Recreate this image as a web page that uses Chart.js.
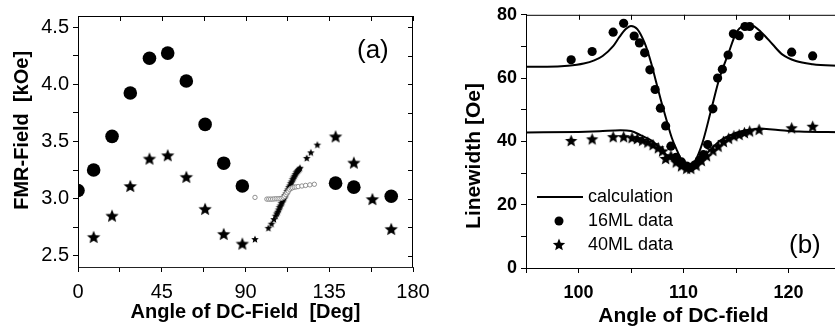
<!DOCTYPE html>
<html>
<head>
<meta charset="utf-8">
<script src="https://cdn.jsdelivr.net/npm/chart.js@4"></script>
<style>
  html, body { margin: 0; padding: 0; background: #fff; overflow: hidden; width: 835px; height: 333px; }
  #wrapA { position: absolute; left: 0; top: 0; width: 440px; height: 333px; }
  #wrapB { position: absolute; left: 420px; top: 0; width: 430px; height: 333px; }
</style>
</head>
<body>
<div id="wrapA"><canvas id="chartA"></canvas></div>
<div id="wrapB"><canvas id="chartB"></canvas></div>
<script>
// ---- panel (a): FMR field vs angle ----
var angBigDots = [0, 8.4, 18.3, 28.1, 38.4, 48.2, 58.2, 68.3, 78.3, 88.3, 138.4, 148.2, 168.3];
var fieldBigDots = [3.07, 3.25, 3.545, 3.925, 4.23, 4.275, 4.03, 3.65, 3.31, 3.11, 3.135, 3.10, 3.02];

var angBigStars = [8.4, 18.3, 28.1, 38.4, 48.2, 58.2, 68.3, 78.3, 88.3, 138.4, 148.2, 158.2, 168.3];
var fieldBigStars = [2.664, 2.85, 3.11, 3.35, 3.38, 3.19, 2.91, 2.69, 2.605, 3.545, 3.315, 2.996, 2.734];

var angSmallStars = [95.1, 102.3, 104.0, 105.3, 106.2, 106.8, 107.3, 107.8, 108.3, 108.8, 109.3, 109.8,
  110.3, 110.8, 111.3, 111.8, 112.3, 112.8, 113.3, 113.8, 114.3, 114.8, 115.3, 115.8, 116.3, 116.8,
  117.3, 117.8, 118.3, 118.8, 119.3, 122.9, 125.1, 128.6];
var fieldSmallStars = [2.645, 2.743, 2.78, 2.82, 2.85, 2.87, 2.885, 2.905, 2.925, 2.94, 2.96, 2.975,
  2.995, 3.01, 3.03, 3.045, 3.065, 3.08, 3.10, 3.115, 3.135, 3.15, 3.17, 3.185, 3.20, 3.215,
  3.23, 3.24, 3.25, 3.26, 3.27, 3.356, 3.405, 3.473];

var angSmallRings = [95.1, 101.5, 102.5, 103.5, 104.5, 105.5, 106.5, 107.5, 108.5, 109.5, 110.3, 111.0,
  111.7, 112.3, 113.0, 113.7, 114.5, 115.3, 116.2, 117.2, 118.3, 120.3, 122.3, 124.6, 127.0];
var fieldSmallRings = [3.01, 2.995, 2.995, 2.995, 2.995, 2.997, 2.998, 2.998, 3.0, 3.003, 3.01, 3.02,
  3.035, 3.05, 3.065, 3.08, 3.09, 3.095, 3.10, 3.102, 3.105, 3.11, 3.115, 3.12, 3.125];

// ---- panel (b): linewidth vs angle ----
var ang16 = [99.3, 101.3, 103.3, 104.3, 105.3, 105.8, 106.3, 106.8, 107.3, 107.8, 108.3, 108.8, 109.3,
  109.8, 110.3, 110.7, 111.1, 111.5, 111.9, 112.3, 112.8, 113.25, 113.7, 114.25, 114.75, 115.3, 115.85,
  116.3, 117.2, 120.3, 122.3];
var lw16 = [65.8, 68.4, 74.5, 77.3, 73.3, 71.1, 68.0, 62.6, 56.4, 50.5, 44.9, 38.5, 35.0,
  33.5, 32.2, 31.8, 32.6, 34.0, 35.8, 39.0, 50.3, 60.0, 62.8, 67.3, 74.0, 73.4, 76.3,
  76.3, 73.2, 68.2, 67.0];

var ang40 = [99.3, 101.3, 103.3, 104.3, 105.1, 105.6, 106.1, 106.6, 107.1, 107.6, 108.0, 108.3, 108.8,
  109.3, 109.8, 110.3, 110.7, 111.2, 111.7, 112.2, 112.8, 113.3, 113.8, 114.3, 114.8, 115.3, 115.8,
  116.3, 117.2, 120.3, 122.3];
var lw40 = [40.3, 40.8, 41.5, 41.5, 41.2, 40.9, 40.4, 39.8, 39.0, 38.0, 37.0, 34.6, 35.5,
  33.5, 32.3, 31.5, 31.5, 32.5, 34.0, 35.5, 37.2, 38.5, 40.0, 41.0, 41.8, 42.2, 42.8,
  43.3, 43.8, 44.3, 44.8];

var angCalc16 = [95, 97, 99, 100.5, 101.5, 102.3, 103.3, 103.9, 104.5, 105.0, 105.6, 106.3, 106.9, 107.4,
  107.9, 108.4, 108.9, 109.4, 109.9, 110.5, 111.1, 111.8, 112.6, 113.4, 114.3, 115.0, 115.7, 116.4,
  117.5, 118.5, 119.4, 120.7, 122.3, 125];
var calc16 = [63.6, 63.6, 63.9, 64.6, 65.6, 67.0, 70.1, 73.0, 75.5, 76.5, 75.5, 71.1, 65.0, 58.7,
  52.4, 46.5, 41.0, 37.0, 33.5, 31.1, 33.7, 39.5, 49.5, 59.7, 68.0, 74.2, 76.5, 76.8,
  74.2, 70.6, 67.5, 65.4, 64.4, 63.8];

var angCalc40 = [95, 100, 102, 104, 105, 106, 107, 108, 109, 110, 110.5, 111, 111.5, 112.5, 113.5,
  114.5, 115.5, 116.5, 117.5, 119, 121, 125];
var calc40 = [42.8, 43.0, 43.2, 43.5, 43.3, 41.8, 40.2, 37.0, 33.8, 31.6, 31.3, 31.8, 33.5, 37.2, 40.3,
  42.0, 43.2, 43.8, 44.0, 43.6, 43.1, 42.9];

var legendNames = ["calculation", "16ML data", "40ML data"];

function pts(xs, ys) {
  return xs.map(function(x, i) { return { x: x, y: ys[i] }; });
}

function starPath(ctx, cx, cy, r) {
  var inner = r * 0.45;
  ctx.beginPath();
  for (var i = 0; i < 10; i++) {
    var rr = i % 2 === 0 ? r : inner;
    var a = -Math.PI / 2 + i * Math.PI / 5;
    var px = cx + rr * Math.cos(a), py = cy + rr * Math.sin(a);
    if (i === 0) ctx.moveTo(px, py); else ctx.lineTo(px, py);
  }
  ctx.closePath();
}

function starImage(r) {
  var c = document.createElement("canvas");
  var s = Math.ceil(r * 2 + 2);
  c.width = s; c.height = s;
  var ctx = c.getContext("2d");
  ctx.fillStyle = "#000";
  starPath(ctx, s / 2, s / 2 + r * 0.1, r);
  ctx.fill();
  return c;
}

Chart.defaults.color = "#000";
Chart.defaults.font.family = "'Liberation Sans', Arial, sans-serif";
Chart.defaults.animation = false;

// box frame with inward ticks on top and right
var framePlugin = {
  id: "frame",
  afterDraw: function(chart) {
    var ctx = chart.ctx, a = chart.chartArea;
    var sx = chart.scales.x, sy = chart.scales.y;
    ctx.save();
    ctx.strokeStyle = "#000";
    ctx.lineWidth = 1;
    ctx.beginPath();
    ctx.moveTo(a.left, a.top + 0.5); ctx.lineTo(a.right, a.top + 0.5);
    ctx.moveTo(a.right - 0.5, a.top); ctx.lineTo(a.right - 0.5, a.bottom);
    sx.ticks.forEach(function(t) {
      var px = Math.round(sx.getPixelForValue(t.value)) + 0.5;
      ctx.moveTo(px, a.top); ctx.lineTo(px, a.top + 5);
    });
    sy.ticks.forEach(function(t) {
      var py = Math.round(sy.getPixelForValue(t.value)) + 0.5;
      ctx.moveTo(a.right, py); ctx.lineTo(a.right - 5, py);
    });
    ctx.stroke();
    ctx.restore();
  }
};

var labelA = {
  id: "labelA",
  afterDraw: function(chart) {
    var ctx = chart.ctx;
    ctx.save();
    ctx.fillStyle = "#000";
    ctx.font = "26px 'Liberation Sans', Arial, sans-serif";
    ctx.textBaseline = "middle";
    ctx.fillText("(a)", 357, 51);
    ctx.restore();
  }
};

var legendB = {
  id: "legendB",
  afterDraw: function(chart) {
    var ctx = chart.ctx;
    ctx.save();
    ctx.fillStyle = "#000";
    ctx.strokeStyle = "#000";
    ctx.lineWidth = 2;
    ctx.beginPath();
    ctx.moveTo(117, 197); ctx.lineTo(163, 197);
    ctx.stroke();
    ctx.beginPath();
    ctx.arc(139, 221, 4.5, 0, Math.PI * 2);
    ctx.fill();
    starPath(ctx, 139, 245, 6.5);
    ctx.fill();
    ctx.font = "18px 'Liberation Sans', Arial, sans-serif";
    ctx.textBaseline = "middle";
    ctx.fillText(legendNames[0], 168, 197);
    ctx.fillText(legendNames[1], 168, 221);
    ctx.fillText(legendNames[2], 168, 245);
    ctx.font = "26px 'Liberation Sans', Arial, sans-serif";
    ctx.fillText("(b)", 369, 246);
    ctx.restore();
  }
};

var bigStar = starImage(7);
var smallStar = starImage(4);
var midStar = starImage(6.5);

new Chart(document.getElementById("chartA"), {
  type: "scatter",
  data: {
    datasets: [
      { data: pts(angSmallRings, fieldSmallRings), pointStyle: "circle", pointRadius: 2.2,
        backgroundColor: "#fff", borderColor: "#777", pointBorderWidth: 0.8 },
      { data: pts(angSmallStars, fieldSmallStars), pointStyle: smallStar },
      { data: pts(angBigDots, fieldBigDots), pointStyle: "circle", pointRadius: 6.8,
        backgroundColor: "#000", borderColor: "#000", pointBorderWidth: 0 },
      { data: pts(angBigStars, fieldBigStars), pointStyle: bigStar }
    ]
  },
  options: {
    responsive: true,
    maintainAspectRatio: false,
    layout: { padding: { top: 16, right: 27, left: 0, bottom: 0 } },
    plugins: { legend: { display: false }, tooltip: { enabled: false } },
    scales: {
      x: {
        min: 0, max: 180,
        afterFit: function(s) { s.height = 66; },
        grid: { drawOnChartArea: false, tickLength: 5, color: "#000" },
        border: { color: "#222" },
        ticks: {
          stepSize: 22.5, autoSkip: false, maxRotation: 0, padding: 8,
          font: { size: 20 },
          callback: function(v) { return v % 45 === 0 ? v : ""; }
        },
        title: { display: true, text: "Angle of DC-Field  [Deg]",
          font: { size: 20, weight: "bold" }, padding: { top: 0, bottom: 9 } }
      },
      y: {
        min: 2.4, max: 4.6,
        afterFit: function(s) { s.width = 78; },
        grid: { drawOnChartArea: false, tickLength: 5, color: "#000" },
        border: { color: "#000" },
        ticks: {
          stepSize: 0.25, includeBounds: false, padding: 4,
          font: { size: 20 },
          callback: function(v) {
            return Math.abs(v * 2 - Math.round(v * 2)) < 1e-6 ? v.toFixed(1) : "";
          }
        },
        title: { display: true, text: "    FMR-Field  [kOe]",
          font: { size: 20, weight: "bold" }, padding: { top: 10, bottom: 0 } }
      }
    }
  },
  plugins: [framePlugin, labelA]
});

new Chart(document.getElementById("chartB"), {
  type: "scatter",
  data: {
    datasets: [
      { data: pts(angCalc16, calc16), showLine: true, pointRadius: 0, borderColor: "#000",
        borderWidth: 2, cubicInterpolationMode: "monotone" },
      { data: pts(angCalc40, calc40), showLine: true, pointRadius: 0, borderColor: "#000",
        borderWidth: 2, cubicInterpolationMode: "monotone" },
      { data: pts(ang16, lw16), pointStyle: "circle", pointRadius: 4.6,
        backgroundColor: "#000", borderColor: "#000", pointBorderWidth: 0 },
      { data: pts(ang40, lw40), pointStyle: midStar }
    ]
  },
  options: {
    responsive: true,
    maintainAspectRatio: false,
    layout: { padding: { top: 12, right: 8, left: 0, bottom: 0 } },
    plugins: { legend: { display: false }, tooltip: { enabled: false } },
    scales: {
      x: {
        min: 95, max: 125,
        afterFit: function(s) { s.height = 65; },
        grid: { drawOnChartArea: false, tickLength: 5, color: "#000" },
        border: { color: "#000" },
        ticks: {
          stepSize: 5, autoSkip: false, maxRotation: 0, padding: 9,
          font: { size: 18, weight: "bold" },
          callback: function(v) { return v % 10 === 0 ? v : ""; }
        },
        title: { display: true, text: "Angle of DC-field",
          font: { size: 21, weight: "bold" }, padding: { top: 0, bottom: 4 } }
      },
      y: {
        min: 0, max: 80,
        afterFit: function(s) { s.width = 106; },
        grid: { drawOnChartArea: false, tickLength: 5, color: "#000" },
        border: { color: "#000" },
        ticks: {
          stepSize: 10, padding: 4,
          font: { size: 18, weight: "bold" },
          callback: function(v) { return v % 20 === 0 ? v : ""; }
        },
        title: { display: true, text: "Linewidth [Oe]     ",
          font: { size: 21, weight: "bold" }, padding: { top: 42, bottom: 0 } }
      }
    }
  },
  plugins: [framePlugin, legendB]
});
</script>
</body>
</html>
